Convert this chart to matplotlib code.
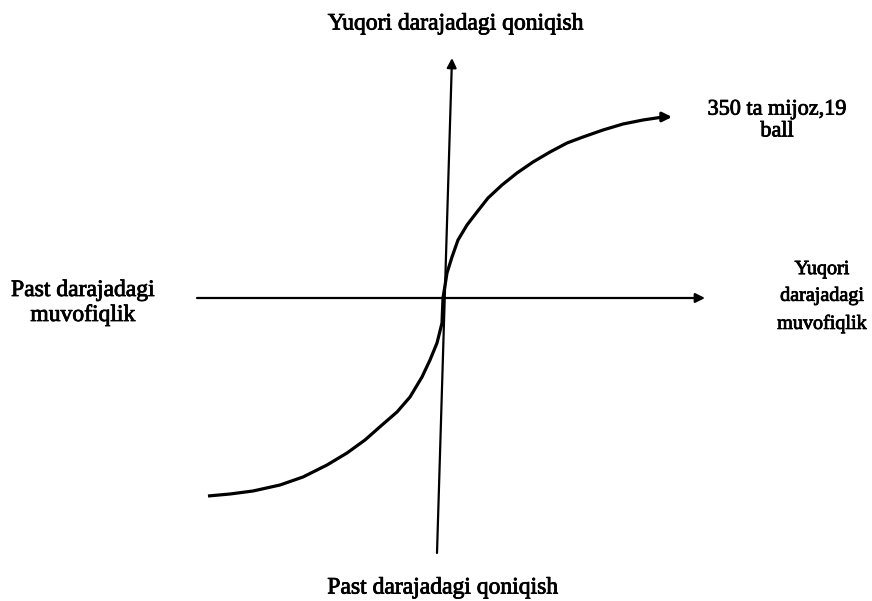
import numpy as np
import matplotlib.pyplot as plt
import matplotlib.patheffects as pe

plt.rcParams['font.family'] = ['Liberation Serif', 'DejaVu Serif']

# -----------------------------
# DATA (origin at the axes crossing)
# -----------------------------

curve_x = [-235, -213, -190, -163, -140, -116, -96, -78, -61, -46, -33,
           -21, -13, -6, -1, 0, 4, 9, 15, 24, 34, 45, 59, 74, 90, 107,
           124, 140, 160, 180, 200, 220, 229]
curve_y = [-198, -196, -193, -187, -179, -167, -155, -142, -127, -114, -99,
           -79, -62, -45, -25, 0, 25, 41, 58, 73, 86, 100, 113, 125, 136, 146,
           155, 161, 168, 174, 178, 181, 181]

x_axis = [-246, 262]          # horizontal axis ends
y_axis_top = (9, 240)         # vertical axis arrow tip
y_axis_bottom = (-6, -255)    # vertical axis lower end

lbl_top = "Yuqori darajadagi qoniqish"
lbl_bottom = "Past darajadagi qoniqish"
lbl_left = "Past darajadagi\nmuvofiqlik"
lbl_right = "Yuqori\ndarajadagi\nmuvofiqlik"
lbl_curve = "350 ta mijoz,19\nball"

# -----------------------------
# GRAFIK
# -----------------------------

fig = plt.figure(figsize=(8.72, 6.01), dpi=100)
ax = fig.add_axes([0, 0, 1, 1])
ax.set_xlim(-443, 872 - 443)
ax.set_ylim(298 - 601, 298)
ax.axis('off')

arrow = dict(arrowstyle='-|>', color='black', lw=1.6, mutation_scale=14,
             shrinkA=0, shrinkB=0)

# eixos
ax.annotate('', xy=(x_axis[1], 0), xytext=(x_axis[0], 0), arrowprops=arrow)
ax.annotate('', xy=y_axis_top, xytext=y_axis_bottom, arrowprops=arrow)

# curva
ax.plot(curve_x[:-1], curve_y[:-1], color='black', lw=2.3,
        solid_capstyle='butt', solid_joinstyle='round')
ax.annotate('', xy=(curve_x[-1], curve_y[-1]), xytext=(curve_x[-2], curve_y[-2]),
            arrowprops=dict(arrow, lw=2.2))

heavy = [pe.withStroke(linewidth=0.6, foreground='black')]
kw = dict(ha='center', va='center', path_effects=heavy)
ax.text(13, 274, lbl_top, fontsize=17, **kw)
ax.text(0, -290, lbl_bottom, fontsize=17, **kw)
ax.text(-360, -5, lbl_left, fontsize=17, linespacing=1.25, **kw)
ax.text(379, 1, lbl_right, fontsize=14.5, linespacing=1.55, **kw)
ax.text(334, 177, lbl_curve, fontsize=16, linespacing=1.2, **kw)

fig.savefig('out.png', dpi=100)
